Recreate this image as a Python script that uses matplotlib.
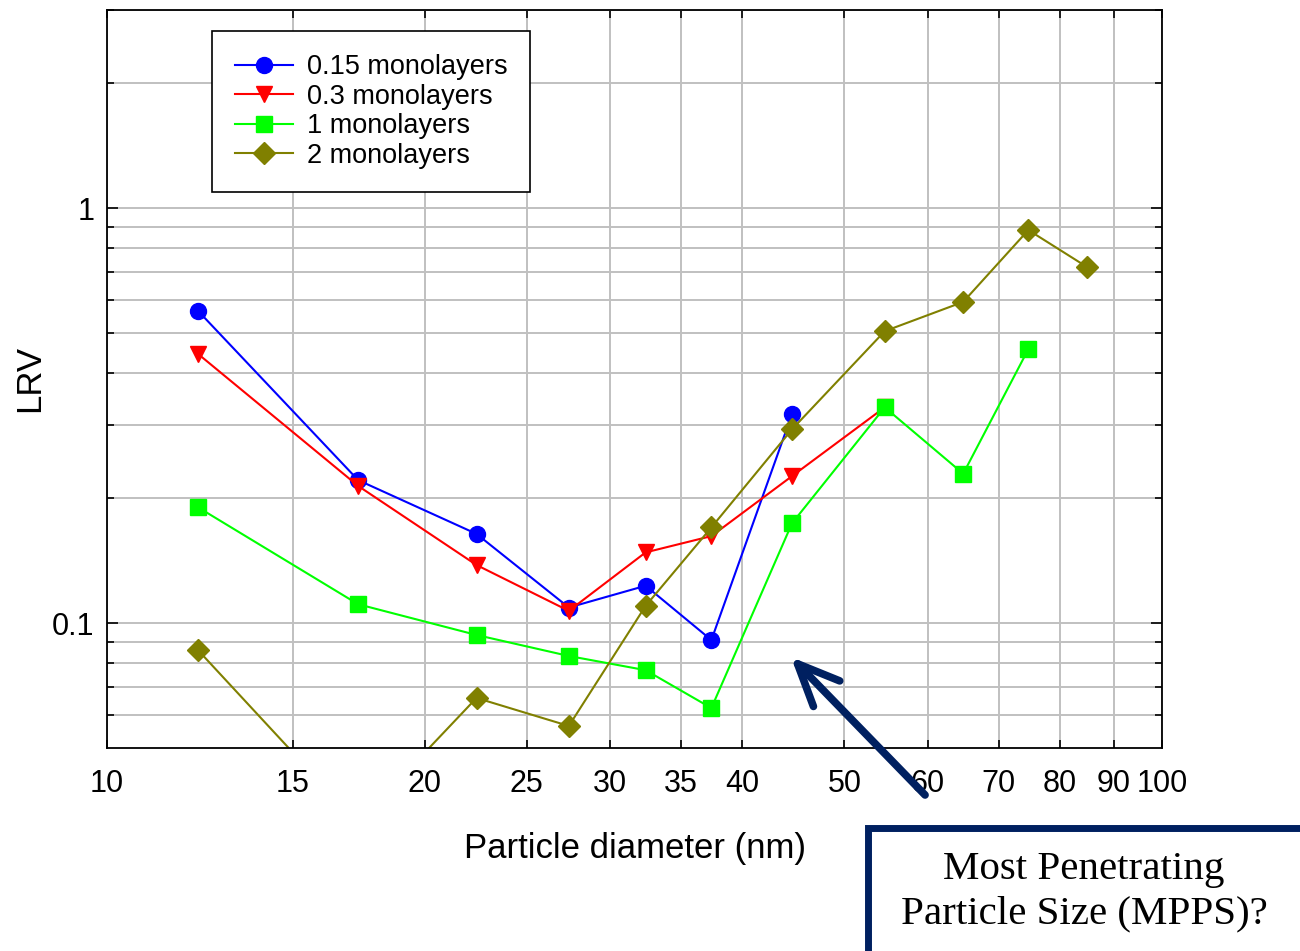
import matplotlib.pyplot as plt
from matplotlib.patches import Rectangle
from matplotlib.ticker import FixedLocator, NullFormatter, NullLocator

# particle diameter (nm)
diam = [12.2, 17.3, 22.4, 27.4, 32.4, 37.4, 44.6, 54.6, 64.8, 74.7, 84.9]

lrv_015 = [0.565, 0.221, 0.164, 0.109, 0.123, 0.091, 0.319]
lrv_03 = [0.445, 0.214, 0.138, 0.107, 0.148, 0.162, 0.226, 0.331]
lrv_1 = [0.190, 0.111, 0.0936, 0.0833, 0.077, 0.0624, 0.174, 0.331, 0.229, 0.457]
lrv_2 = [0.086, 0.033, 0.066, 0.0565, 0.110, 0.170, 0.293, 0.505, 0.594, 0.885, 0.721]

labels = ['0.15 monolayers', '0.3 monolayers', '1 monolayers', '2 monolayers']
xticks = [10, 15, 20, 25, 30, 35, 40, 50, 60, 70, 80, 90, 100]

plt.rcParams['font.family'] = ['Liberation Sans', 'DejaVu Sans']

fig = plt.figure(figsize=(13, 9.51), dpi=100)
ax = fig.add_axes([107 / 1300, 1 - 748 / 951, 1055 / 1300, 738 / 951])

ax.plot(diam[:len(lrv_015)], lrv_015, color='#0000ff', marker='o', ms=11.5, lw=1.5, label=labels[0])
ax.plot(diam[:len(lrv_03)], lrv_03, color='#ff0000', marker='v', ms=11.5, lw=1.5, label=labels[1])
ax.plot(diam[:len(lrv_1)], lrv_1, color='#00ff00', marker='s', ms=11, lw=1.5, label=labels[2])
ax.plot(diam[:len(lrv_2)], lrv_2, color='#808000', marker='D', ms=11, lw=1.5, label=labels[3])

ax.set_xscale('log')
ax.set_yscale('log')
ax.set_xlim(10, 100)
ax.set_ylim(0.05, 3.0)

ax.xaxis.set_major_locator(FixedLocator(xticks))
ax.xaxis.set_minor_locator(NullLocator())
ax.set_xticklabels([str(t) for t in xticks])
ax.yaxis.set_major_locator(FixedLocator([0.1, 1]))
ax.set_yticklabels(['0.1', '1'])
ax.yaxis.set_minor_locator(FixedLocator([0.06, 0.07, 0.08, 0.09, 0.2, 0.3, 0.4, 0.5,
                                         0.6, 0.7, 0.8, 0.9, 2, 3]))
ax.yaxis.set_minor_formatter(NullFormatter())

ax.grid(True, which='both', color='#c0c0c0', lw=1.4)
ax.set_axisbelow(True)
ax.tick_params(which='both', direction='in', top=True, right=True, labelsize=22, width=1.2)
ax.tick_params(axis='x', which='major', length=6, pad=15)
ax.tick_params(axis='y', which='major', length=8, pad=9)
ax.tick_params(axis='y', which='minor', length=5)
for s in ax.spines.values():
    s.set_linewidth(1.3)

ax.set_xlabel('Particle diameter (nm)', fontsize=25)
ax.xaxis.set_label_coords(0.5, -0.114)
ax.set_ylabel('LRV', fontsize=25)
ax.yaxis.set_label_coords(-0.058, 0.5)

leg = ax.legend(loc='upper left', bbox_to_anchor=(0.0995, 0.9715), borderaxespad=0,
                fontsize=19.5, fancybox=False, edgecolor='black', framealpha=1,
                labelspacing=0.13, handlelength=2.15, handletextpad=0.5, borderpad=0.85)
leg.get_frame().set_linewidth(1.2)

# annotation arrow and box
ax.annotate('', xy=(789, 951 - 655), xycoords='figure pixels',
            xytext=(927, 951 - 797), textcoords='figure pixels',
            arrowprops=dict(arrowstyle='->,head_length=1.25,head_width=0.55',
                            mutation_scale=24, lw=5.5, color='#002060',
                            capstyle='round', joinstyle='round'),
            annotation_clip=False)

box = Rectangle((868 / 1300, -0.1), 0.5, 0.1 + 123 / 951, transform=fig.transFigure,
                facecolor='white', edgecolor='#002060', lw=5, clip_on=False)
fig.add_artist(box)
fig.text(1084 / 1300, 59 / 951, 'Most Penetrating\nParticle Size (MPPS)?',
         ha='center', va='center', fontsize=29.5, family='Liberation Serif',
         linespacing=1.27)

fig.savefig('out.png', dpi=100)
